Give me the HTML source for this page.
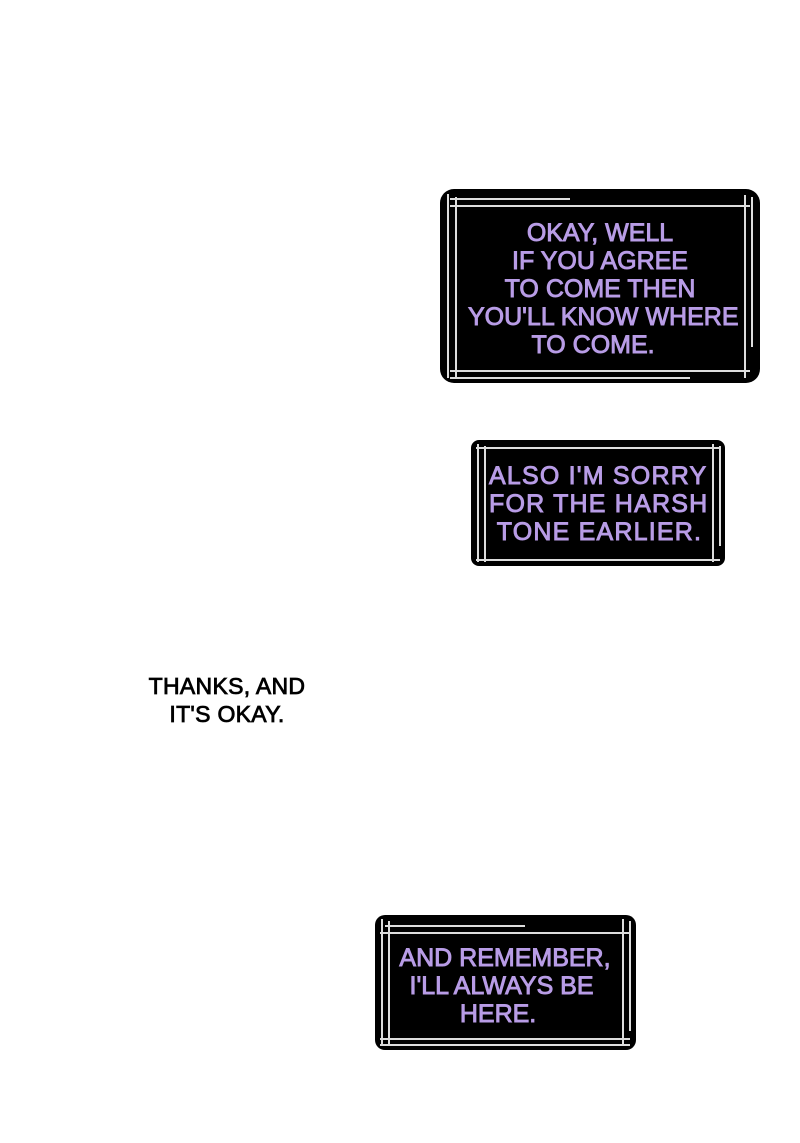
<!DOCTYPE html>
<html><head><meta charset="utf-8">
<style>
html,body{margin:0;padding:0;background:#fff;}
body{width:800px;height:1143px;position:relative;overflow:hidden;font-family:"Liberation Sans",sans-serif;}
.box{position:absolute;background:#000;border-radius:14px;}
.l{position:absolute;background:#ddd;}
.t{position:absolute;color:#b89ce6;font-size:25px;line-height:28px;white-space:pre;letter-spacing:0px;-webkit-text-stroke:0.9px #b89ce6;}
.cap{position:absolute;color:#000;font-size:23px;line-height:28px;text-align:center;white-space:pre;letter-spacing:0.3px;-webkit-text-stroke:0.8px #000;}
</style></head><body>

<div class="box" style="left:440px;top:189px;width:320px;height:194px;"></div>
<div class="l" style="left:447px;top:194px;width:1.5px;height:184px;"></div>
<div class="l" style="left:455px;top:197px;width:1.5px;height:180px;"></div>
<div class="l" style="left:744px;top:195px;width:1.5px;height:183px;"></div>
<div class="l" style="left:751px;top:197px;width:1.5px;height:150px;"></div>
<div class="l" style="left:450px;top:198px;width:120px;height:1.5px;"></div>
<div class="l" style="left:450px;top:205px;width:300px;height:1.5px;"></div>
<div class="l" style="left:450px;top:370px;width:300px;height:1.5px;"></div>
<div class="l" style="left:450px;top:377px;width:240px;height:1.5px;"></div>
<div class="t" style="left:440px;top:219px;width:320px;text-align:center;">OKAY, WELL
IF YOU AGREE
TO COME THEN
 YOU'LL KNOW WHERE
TO COME.  </div>

<div class="box" style="left:471px;top:440px;width:254px;height:126px;border-radius:8px;"></div>
<div class="l" style="left:477px;top:444px;width:1.5px;height:118px;"></div>
<div class="l" style="left:484px;top:446px;width:1.5px;height:116px;"></div>
<div class="l" style="left:712px;top:444px;width:1.5px;height:118px;"></div>
<div class="l" style="left:719px;top:446px;width:1.5px;height:100px;"></div>
<div class="l" style="left:476px;top:447px;width:244px;height:1.5px;"></div>
<div class="l" style="left:476px;top:559px;width:244px;height:1.5px;"></div>
<div class="t" style="left:489px;top:462px;letter-spacing:1.2px;">ALSO I'M SORRY
FOR THE HARSH
 TONE EARLIER.</div>

<div class="cap" style="left:127px;top:672px;width:200px;">THANKS, AND
IT'S OKAY.</div>

<div class="box" style="left:375px;top:915px;width:261px;height:135px;border-radius:10px;"></div>
<div class="l" style="left:381px;top:919px;width:1.5px;height:127px;"></div>
<div class="l" style="left:388px;top:921px;width:1.5px;height:125px;"></div>
<div class="l" style="left:622px;top:919px;width:1.5px;height:127px;"></div>
<div class="l" style="left:629px;top:921px;width:1.5px;height:110px;"></div>
<div class="l" style="left:385px;top:925px;width:140px;height:1.5px;"></div>
<div class="l" style="left:380px;top:932px;width:250px;height:1.5px;"></div>
<div class="l" style="left:380px;top:1038px;width:250px;height:1.5px;"></div>
<div class="l" style="left:380px;top:1044px;width:250px;height:1.5px;"></div>
<div class="t" style="left:385px;top:944px;width:240px;text-align:center;">AND REMEMBER,
I'LL ALWAYS BE 
HERE.  </div>

</body></html>
